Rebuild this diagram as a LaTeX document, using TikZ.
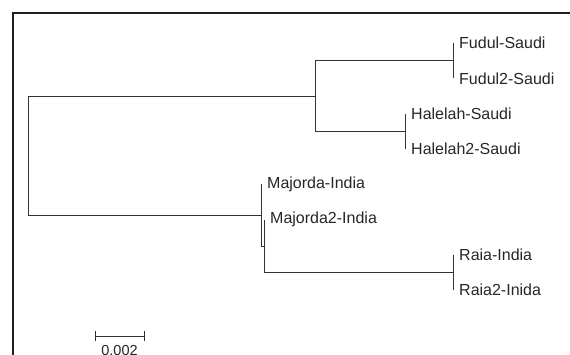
\documentclass[tikz,border=0pt]{standalone}
\usepackage{fontspec}
\setmainfont{Liberation Sans}
\begin{document}
\begin{tikzpicture}[x=1pt,y=-1pt,
  branch/.style={draw=black!80, line width=0.9pt},
  frameline/.style={draw=black!88, line width=2.5pt},
  leaf/.style={anchor=west, inner sep=0pt, font=\fontsize{16}{18}\selectfont, text=black!85},
  scalelbl/.style={anchor=north, inner sep=0pt, font=\fontsize{14.5}{16}\selectfont, text=black!85}]
\useasboundingbox (0,0) rectangle (570,354);
\clip (0,0) rectangle (570,354);
\draw[frameline] (13,360) -- (13,13) -- (575,13);
% leaf tips
\coordinate (t1) at (453,43);
\coordinate (t2) at (453,78.3);
\coordinate (t3) at (405,113.6);
\coordinate (t4) at (405,148.9);
\coordinate (t5) at (261,184.2);
\coordinate (t6) at (264,219.5);
\coordinate (t7) at (453,254.8);
\coordinate (t8) at (453,290.1);
% internal nodes
\coordinate (fn) at (453,60.65);
\coordinate (hn) at (405,131.25);
\coordinate (sn) at (315,95.95);
\coordinate (rn) at (453,272.45);
\coordinate (bn) at (264,245.97);
\coordinate (an) at (261,215.1);
\coordinate (root) at (28,155.5);
% labels
\node[leaf] (l1) at ([xshift=6pt]t1) {Fudul-Saudi};
\node[leaf] (l2) at ([xshift=6pt]t2) {Fudul2-Saudi};
\node[leaf] (l3) at ([xshift=6pt]t3) {Halelah-Saudi};
\node[leaf] (l4) at ([xshift=6pt]t4) {Halelah2-Saudi};
\node[leaf] (l5) at ([xshift=6pt]t5) {Majorda-India};
\node[leaf] (l6) at ([xshift=6pt]t6) {Majorda2-India};
\node[leaf] (l7) at ([xshift=6pt]t7) {Raia-India};
\node[leaf] (l8) at ([xshift=6pt]t8) {Raia2-Inida};
% branches
\draw[branch] (t1) -- (t2);
\draw[branch] (t3) -- (t4);
\draw[branch] (t7) -- (t8);
\draw[branch] (fn) -- (fn -| sn) -- (hn -| sn) -- (hn);
\draw[branch] (t5) -- (bn -| an) -- (bn);
\draw[branch] (t6) -- (rn -| bn) -- (rn);
\draw[branch] (sn) -- (sn -| root) -- (an -| root) -- (an);
% scale bar
\coordinate (sb1) at (95,336);
\coordinate (sb2) at (144,336);
\draw[branch] (sb1) -- (sb2);
\draw[branch] ([yshift=-5pt]sb1) -- ([yshift=5pt]sb1);
\draw[branch] ([yshift=-5pt]sb2) -- ([yshift=5pt]sb2);
\node[scalelbl] (sl) at (119.5,345) {0.002};
\end{tikzpicture}
\end{document}
